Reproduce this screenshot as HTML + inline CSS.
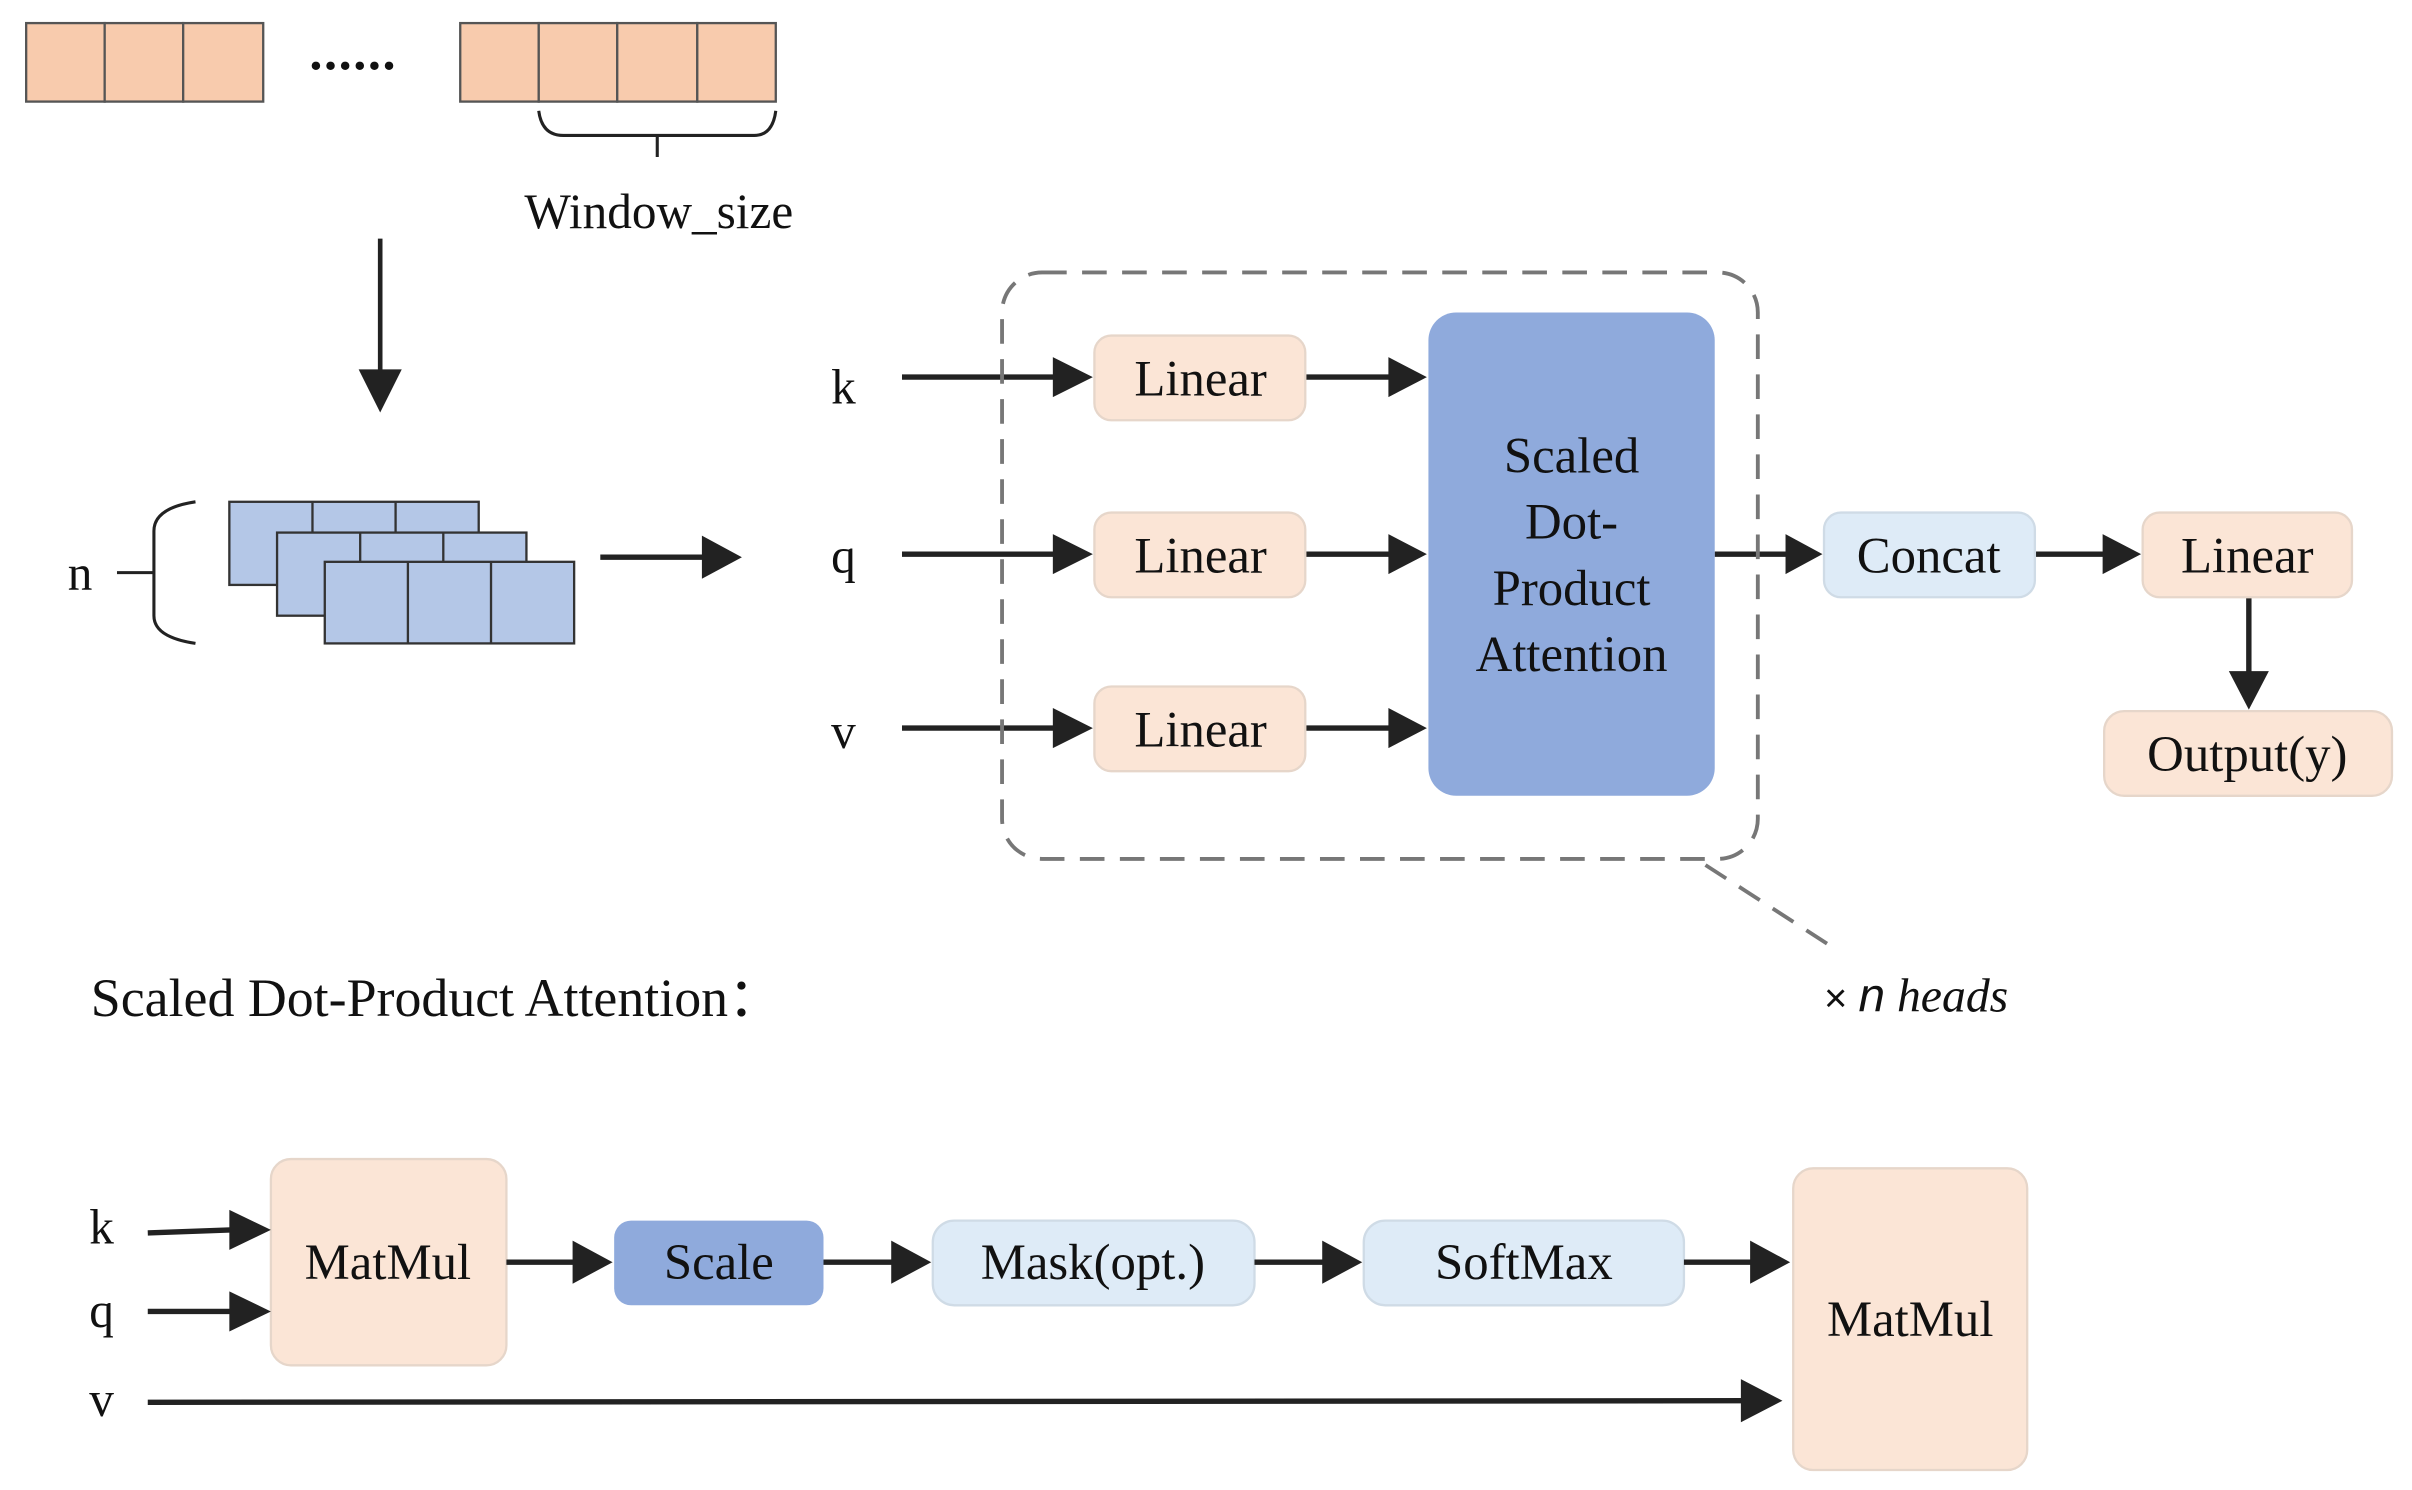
<!DOCTYPE html>
<html><head><meta charset="utf-8"><style>html,body{margin:0;padding:0;background:#fff}svg{display:block}</style></head>
<body>
<svg width="2412" height="1490" viewBox="0 0 1567 968" preserveAspectRatio="none" xmlns="http://www.w3.org/2000/svg" font-family="Liberation Serif, serif" fill="#111">
<g stroke="#555" stroke-width="1.5" fill="#f8cbad">
<rect x="17" y="15" width="51" height="51"/><rect x="68" y="15" width="51" height="51"/><rect x="119" y="15" width="52" height="51"/>
<rect x="299" y="15" width="51" height="51"/><rect x="350" y="15" width="51" height="51"/><rect x="401" y="15" width="52" height="51"/><rect x="453" y="15" width="51" height="51"/>
</g>
<text x="201" y="45" font-size="34" font-weight="bold" letter-spacing="1">......</text>
<path d="M350 72 Q352 88 366 88 L490 88 Q502 88 504 72 M427 88 L427 102" stroke="#222" stroke-width="2" fill="none"/>
<text x="428" y="148" font-size="32" text-anchor="middle">Window_size</text>
<line x1="247" y1="155" x2="247" y2="242" stroke="#222" stroke-width="3"/>
<polygon points="233,240 261,240 247,268" fill="#222"/>
<text x="52" y="383" font-size="32" text-anchor="middle">n</text>
<path d="M76 372 L100 372 M127 326 Q100 330 100 345 L100 400 Q100 414 127 418" stroke="#222" stroke-width="2" fill="none"/>
<g stroke="#333" stroke-width="1.5" fill="#b4c7e7">
<rect x="149" y="326" width="162" height="54"/><line x1="203" y1="326" x2="203" y2="380"/><line x1="257" y1="326" x2="257" y2="380"/>
<rect x="180" y="346" width="162" height="54"/><line x1="234" y1="346" x2="234" y2="400"/><line x1="288" y1="346" x2="288" y2="400"/>
<rect x="211" y="365" width="162" height="53"/><line x1="265" y1="365" x2="265" y2="418"/><line x1="319" y1="365" x2="319" y2="418"/>
</g>
<g stroke="#222" stroke-width="3.5">
<line x1="390" y1="362" x2="458" y2="362"/>
<line x1="586" y1="245" x2="686" y2="245"/><line x1="586" y1="360" x2="686" y2="360"/><line x1="586" y1="473" x2="686" y2="473"/>
<line x1="848" y1="245" x2="904" y2="245"/><line x1="848" y1="360" x2="904" y2="360"/><line x1="848" y1="473" x2="904" y2="473"/>
<line x1="1114" y1="360" x2="1162" y2="360"/><line x1="1322" y1="360" x2="1368" y2="360"/>
<line x1="1461" y1="388" x2="1461" y2="438"/>
</g>
<g fill="#222">
<polygon points="456,348 482,362 456,376"/>
<polygon points="684,232 710,245 684,258"/><polygon points="684,347 710,360 684,373"/><polygon points="684,460 710,473 684,486"/>
<polygon points="902,232 927,245 902,258"/><polygon points="902,347 927,360 902,373"/><polygon points="902,460 927,473 902,486"/>
<polygon points="1160,347 1184,360 1160,373"/><polygon points="1366,347 1391,360 1366,373"/>
<polygon points="1448,436 1474,436 1461,461"/>
</g>
<text x="548" y="262" font-size="32" text-anchor="middle">k</text>
<text x="548" y="372" font-size="32" text-anchor="middle">q</text>
<text x="548" y="486" font-size="32" text-anchor="middle">v</text>
<rect x="651" y="177" width="491" height="381" rx="26" fill="none" stroke="#777" stroke-width="2.5" stroke-dasharray="16,10"/>
<line x1="1108" y1="562" x2="1190" y2="615" stroke="#777" stroke-width="2.5" stroke-dasharray="16,10"/>
<g fill="#fbe5d6" stroke="#e6d6ca" stroke-width="1.5">
<rect x="711" y="218" width="137" height="55" rx="11"/><rect x="711" y="333" width="137" height="55" rx="11"/><rect x="711" y="446" width="137" height="55" rx="11"/>
<rect x="1392" y="333" width="136" height="55" rx="11"/><rect x="1367" y="462" width="187" height="55" rx="13"/>
</g>
<rect x="928" y="203" width="186" height="314" rx="18" fill="#8faadc"/>
<rect x="1185" y="333" width="137" height="55" rx="11" fill="#deebf7" stroke="#cfdbe6" stroke-width="1.5"/>
<g font-size="33" text-anchor="middle">
<text x="780" y="257">Linear</text><text x="780" y="372">Linear</text><text x="780" y="485">Linear</text>
<text x="1021" y="307">Scaled</text><text x="1021" y="350">Dot-</text><text x="1021" y="393">Product</text><text x="1021" y="436">Attention</text>
<text x="1253" y="372">Concat</text><text x="1460" y="372">Linear</text><text x="1460" y="501">Output(y)</text>
</g>
<text x="1185" y="657" font-size="31" font-style="italic"><tspan font-family="Liberation Sans, sans-serif" font-style="normal" font-size="26">× </tspan><tspan font-family="Liberation Sans, sans-serif">n</tspan> heads</text>
<text x="59" y="660" font-size="35">Scaled Dot-Product Attention：</text>
<g fill="#fbe5d6" stroke="#e6d6ca" stroke-width="1.5">
<rect x="176" y="753" width="153" height="134" rx="13"/>
<rect x="1165" y="759" width="152" height="196" rx="13"/>
</g>
<rect x="399" y="793" width="136" height="55" rx="11" fill="#8faadc"/>
<rect x="606" y="793" width="209" height="55" rx="14" fill="#deebf7" stroke="#cfdbe6" stroke-width="1.5"/>
<rect x="886" y="793" width="208" height="55" rx="14" fill="#deebf7" stroke="#cfdbe6" stroke-width="1.5"/>
<g stroke="#222" stroke-width="3.5">
<line x1="96" y1="801" x2="152" y2="799"/><line x1="96" y1="852" x2="152" y2="852"/>
<line x1="96" y1="911" x2="1134" y2="910"/>
<line x1="329" y1="820" x2="376" y2="820"/><line x1="535" y1="820" x2="582" y2="820"/><line x1="815" y1="820" x2="862" y2="820"/><line x1="1094" y1="820" x2="1140" y2="820"/>
</g>
<g fill="#222">
<polygon points="149,786 176,799 149,812"/><polygon points="149,839 176,852 149,865"/>
<polygon points="1131,896 1158,910 1131,924"/>
<polygon points="372,806 398,820 372,834"/><polygon points="579,806 605,820 579,834"/><polygon points="859,806 885,820 859,834"/><polygon points="1137,806 1163,820 1137,834"/>
</g>
<text x="66" y="808" font-size="32" text-anchor="middle">k</text>
<text x="66" y="862" font-size="32" text-anchor="middle">q</text>
<text x="66" y="920" font-size="32" text-anchor="middle">v</text>
<g font-size="33" text-anchor="middle">
<text x="252" y="831">MatMul</text><text x="467" y="831">Scale</text><text x="710" y="831">Mask(opt.)</text><text x="990" y="831">SoftMax</text><text x="1241" y="868">MatMul</text>
</g>
</svg>
</body></html>
